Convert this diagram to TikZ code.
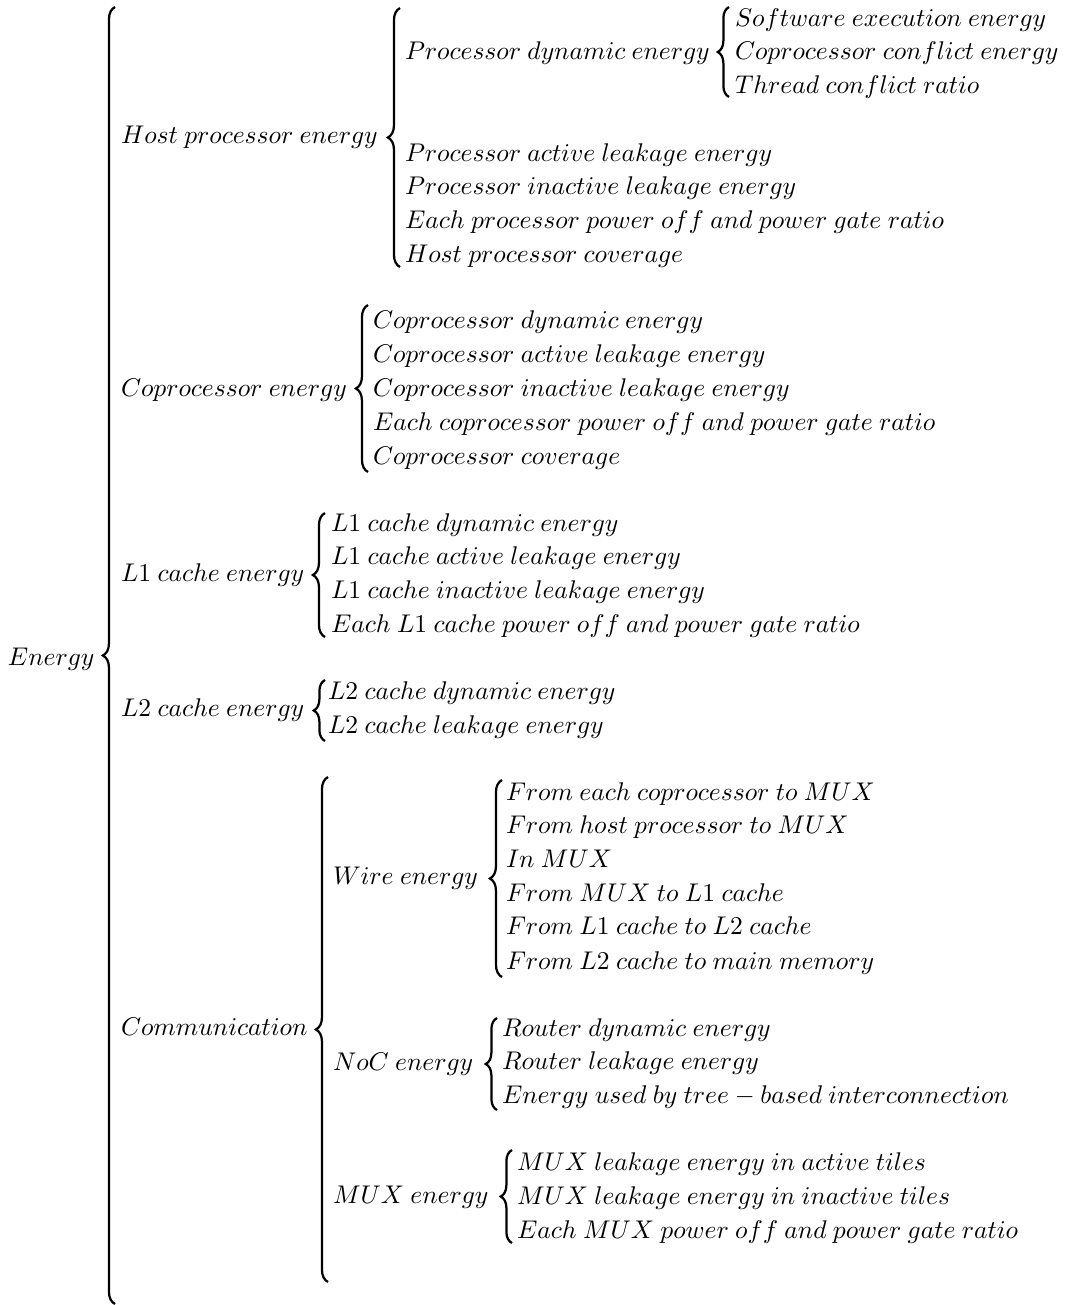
\documentclass[tikz,border=0pt]{standalone}
\usepackage{graphicx}
\usetikzlibrary{decorations.pathreplacing}
\newcommand{\mtx}[1]{\scalebox{0.91}{$#1$}}
\newcommand{\ws}{\mskip4.5mu}
\begin{document}
\begin{tikzpicture}[x=0.35587pt,y=-0.35587pt,
  lbl/.style={anchor=base west,inner sep=0pt,outer sep=0pt},
  brc/.style={decorate,decoration={brace,amplitude=#1},line width=0.8pt},
  brc/.default=4.3pt]
\useasboundingbox (0,0) rectangle (1064,1305);
% root
\node[lbl] (energy) at (8,665) {\mtx{Energy}};
% level 1
\node[lbl] (host) at (121,143) {\mtx{Host\ws processor\ws energy}};
\node[lbl] (copro) at (121,396) {\mtx{Coprocessor\ws energy}};
\node[lbl] (lone) at (121,581) {\mtx{L1\ws cache\ws energy}};
\node[lbl] (ltwo) at (121,716) {\mtx{L2\ws cache\ws energy}};
\node[lbl] (comm) at (121,1035) {\mtx{Communication}};
% host children
\node[lbl] (pde) at (405,59) {\mtx{Processor\ws dynamic\ws energy}};
\node[lbl] (pal) at (405,161) {\mtx{Processor\ws active\ws leakage\ws energy}};
\node[lbl] (pil) at (405,194) {\mtx{Processor\ws inactive\ws leakage\ws energy}};
\node[lbl] (ppg) at (405,228) {\mtx{Each\ws processor\ws power\ws off\ws and\ws power\ws gate\ws ratio}};
\node[lbl] (hpc) at (405,262) {\mtx{Host\ws processor\ws coverage}};
% processor dynamic children
\node[lbl] (see) at (735,26) {\mtx{Software\ws execution\ws energy}};
\node[lbl] (cce) at (735,59) {\mtx{Coprocessor\ws conflict\ws energy}};
\node[lbl] (tcr) at (735,93) {\mtx{Thread\ws conflict\ws ratio}};
% coprocessor children
\node[lbl] (cde) at (373,328) {\mtx{Coprocessor\ws dynamic\ws energy}};
\node[lbl] (cal) at (373,362) {\mtx{Coprocessor\ws active\ws leakage\ws energy}};
\node[lbl] (cil) at (373,396) {\mtx{Coprocessor\ws inactive\ws leakage\ws energy}};
\node[lbl] (cpg) at (373,430) {\mtx{Each\ws coprocessor\ws power\ws off\ws and\ws power\ws gate\ws ratio}};
\node[lbl] (ccv) at (373,464) {\mtx{Coprocessor\ws coverage}};
% L1 children
\node[lbl] (lde) at (331,531) {\mtx{L1\ws cache\ws dynamic\ws energy}};
\node[lbl] (lal) at (331,564) {\mtx{L1\ws cache\ws active\ws leakage\ws energy}};
\node[lbl] (lil) at (331,598) {\mtx{L1\ws cache\ws inactive\ws leakage\ws energy}};
\node[lbl] (lpg) at (331,632) {\mtx{Each\ws L1\ws cache\ws power\ws off\ws and\ws power\ws gate\ws ratio}};
% L2 children
\node[lbl] (mde) at (328,699) {\mtx{L2\ws cache\ws dynamic\ws energy}};
\node[lbl] (mle) at (328,733) {\mtx{L2\ws cache\ws leakage\ws energy}};
% communication children
\node[lbl] (wire) at (333,884) {\mtx{Wire\ws energy}};
\node[lbl] (noc) at (333,1070) {\mtx{NoC\ws energy}};
\node[lbl] (mux) at (333,1203) {\mtx{MUX\ws energy}};
% wire children
\node[lbl] (w1) at (506,800) {\mtx{From\ws each\ws coprocessor\ws to\ws MUX}};
\node[lbl] (w2) at (506,833) {\mtx{From\ws host\ws processor\ws to\ws MUX}};
\node[lbl] (w3) at (506,867) {\mtx{In\ws MUX}};
\node[lbl] (w4) at (506,901) {\mtx{From\ws MUX\ws to\ws L1\ws cache}};
\node[lbl] (w5) at (506,934) {\mtx{From\ws L1\ws cache\ws to\ws L2\ws cache}};
\node[lbl] (w6) at (506,969) {\mtx{From\ws L2\ws cache\ws to\ws main\ws memory}};
% noc children
\node[lbl] (n1) at (502,1036) {\mtx{Router\ws dynamic\ws energy}};
\node[lbl] (n2) at (502,1069) {\mtx{Router\ws leakage\ws energy}};
\node[lbl] (n3) at (502,1103) {\mtx{Energy\ws used\ws by\ws tree-based\ws interconnection}};
% mux children
\node[lbl] (x1) at (517,1170) {\mtx{MUX\ws leakage\ws energy\ws in\ws active\ws tiles}};
\node[lbl] (x2) at (517,1204) {\mtx{MUX\ws leakage\ws energy\ws in\ws inactive\ws tiles}};
\node[lbl] (x3) at (517,1238) {\mtx{Each\ws MUX\ws power\ws off\ws and\ws power\ws gate\ws ratio}};
% brace end coordinates
\coordinate (eT) at (115,7);   \coordinate (eB) at (115,1304);
\coordinate (hT) at (400,8);   \coordinate (hB) at (400,267);
\coordinate (pT) at (729,7);   \coordinate (pB) at (729,97);
\coordinate (cT) at (368,305); \coordinate (cB) at (368,472);
\coordinate (aT) at (325,513); \coordinate (aB) at (325,637);
\coordinate (bT) at (325,680); \coordinate (bB) at (325,741);
\coordinate (mT) at (328,777); \coordinate (mB) at (328,1282);
\coordinate (wT) at (502,780); \coordinate (wB) at (502,977);
\coordinate (nT) at (497,1018);\coordinate (nB) at (497,1110);
\coordinate (xT) at (512,1150);\coordinate (xB) at (512,1243);
% braces
\draw[brc] (eB) -- (eT);
\draw[brc] (hB) -- (hT);
\draw[brc=4pt] (pB) -- (pT);
\draw[brc] (cB) -- (cT);
\draw[brc] (aB) -- (aT);
\draw[brc=4pt] (bB) -- (bT);
\draw[brc] (mB) -- (mT);
\draw[brc] (wB) -- (wT);
\draw[brc=4pt] (nB) -- (nT);
\draw[brc=4pt] (xB) -- (xT);
\end{tikzpicture}
\end{document}
